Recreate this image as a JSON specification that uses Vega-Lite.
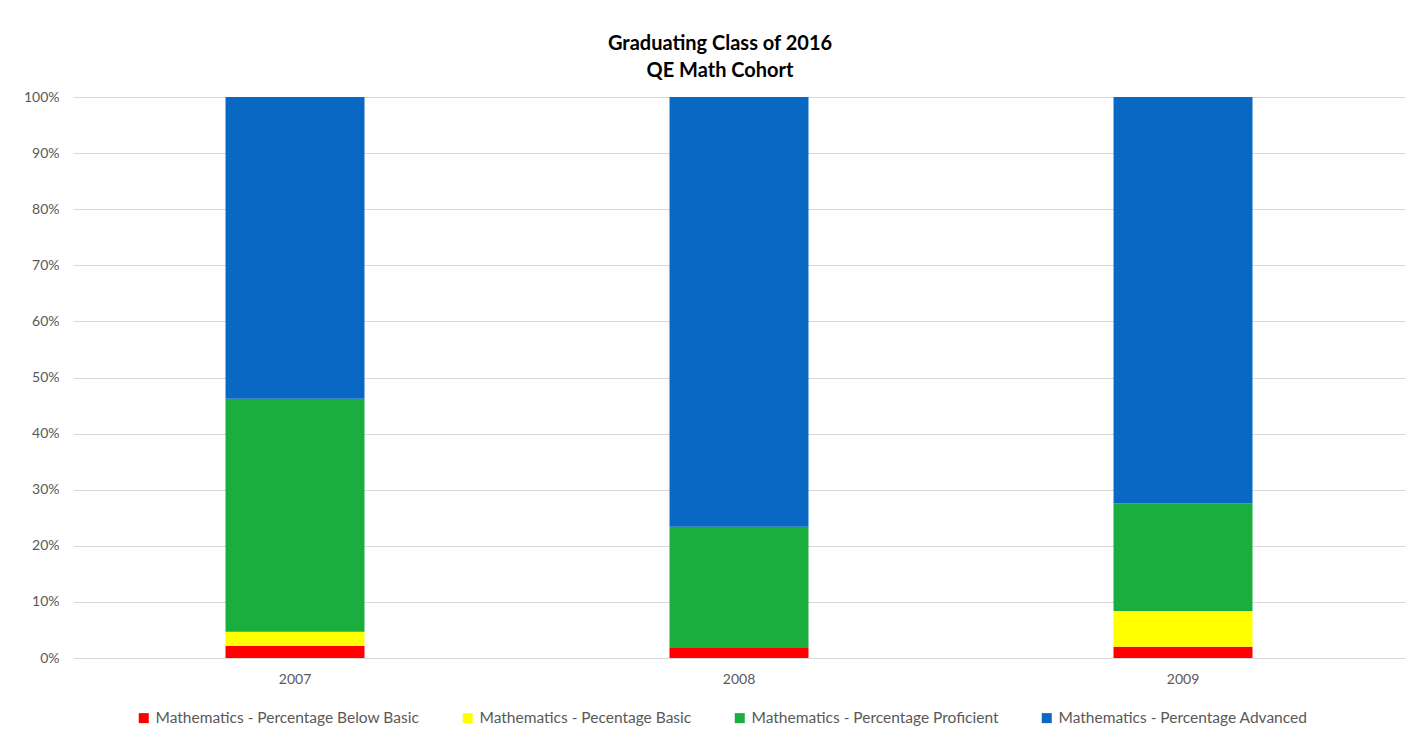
{
  "$schema": "https://vega.github.io/schema/vega-lite/v6.json",
  "width": 1332,
  "height": 561,
  "autosize": {"type": "none"},
  "padding": {"left": 73, "right": 9, "top": 97, "bottom": 82},
  "background": "white",
  "title": {
    "text": ["Graduating Class of 2016", "QE Math Cohort"],
    "font": "Lato",
    "fontSize": 20,
    "fontWeight": "bold",
    "color": "#000000",
    "lineHeight": 27,
    "anchor": "middle",
    "offset": 9,
    "dx": -19
  },
  "data": {
    "values": [
      {"year": "2007", "category": "Mathematics - Percentage Below Basic", "rank": 1, "value": 2.2},
      {"year": "2007", "category": "Mathematics - Pecentage Basic", "rank": 2, "value": 2.5},
      {"year": "2007", "category": "Mathematics - Percentage Proficient", "rank": 3, "value": 41.5},
      {"year": "2007", "category": "Mathematics - Percentage Advanced", "rank": 4, "value": 53.8},
      {"year": "2008", "category": "Mathematics - Percentage Below Basic", "rank": 1, "value": 1.9},
      {"year": "2008", "category": "Mathematics - Pecentage Basic", "rank": 2, "value": 0},
      {"year": "2008", "category": "Mathematics - Percentage Proficient", "rank": 3, "value": 21.5},
      {"year": "2008", "category": "Mathematics - Percentage Advanced", "rank": 4, "value": 76.6},
      {"year": "2009", "category": "Mathematics - Percentage Below Basic", "rank": 1, "value": 2.0},
      {"year": "2009", "category": "Mathematics - Pecentage Basic", "rank": 2, "value": 6.4},
      {"year": "2009", "category": "Mathematics - Percentage Proficient", "rank": 3, "value": 19.2},
      {"year": "2009", "category": "Mathematics - Percentage Advanced", "rank": 4, "value": 72.4}
    ]
  },
  "mark": {"type": "bar"},
  "encoding": {
    "x": {
      "field": "year",
      "type": "nominal",
      "scale": {"paddingInner": 0.687, "paddingOuter": 0.3435},
      "axis": {
        "title": null,
        "labelAngle": 0,
        "ticks": false,
        "domain": false,
        "labelPadding": 14,
        "labelFont": "Lato",
        "labelFontSize": 14,
        "labelColor": "#595959"
      }
    },
    "y": {
      "field": "value",
      "type": "quantitative",
      "stack": "zero",
      "scale": {"domain": [0, 100], "nice": false},
      "axis": {
        "title": null,
        "values": [0, 10, 20, 30, 40, 50, 60, 70, 80, 90, 100],
        "labelExpr": "datum.value + '%'",
        "ticks": false,
        "domain": false,
        "labelPadding": 14,
        "labelFont": "Lato",
        "labelFontSize": 14,
        "labelColor": "#595959",
        "gridColor": "#d9d9d9",
        "gridWidth": 1.2
      }
    },
    "order": {"field": "rank", "type": "quantitative", "sort": "ascending"},
    "color": {
      "field": "category",
      "type": "nominal",
      "sort": [
        "Mathematics - Percentage Below Basic",
        "Mathematics - Pecentage Basic",
        "Mathematics - Percentage Proficient",
        "Mathematics - Percentage Advanced"
      ],
      "scale": {
        "domain": [
          "Mathematics - Percentage Below Basic",
          "Mathematics - Pecentage Basic",
          "Mathematics - Percentage Proficient",
          "Mathematics - Percentage Advanced"
        ],
        "range": ["#ff0000", "#ffff00", "#1aae3e", "#0868c4"]
      },
      "legend": {
        "title": null,
        "orient": "none",
        "legendX": 63,
        "legendY": 613,
        "direction": "horizontal",
        "symbolType": "square",
        "symbolSize": 100,
        "symbolStrokeWidth": 0,
        "labelFont": "Lato",
        "labelFontSize": 15.5,
        "labelColor": "#595959",
        "labelOffset": 4,
        "columnPadding": 40,
        "labelLimit": 400
      }
    }
  },
  "config": {
    "view": {"stroke": null}
  }
}
